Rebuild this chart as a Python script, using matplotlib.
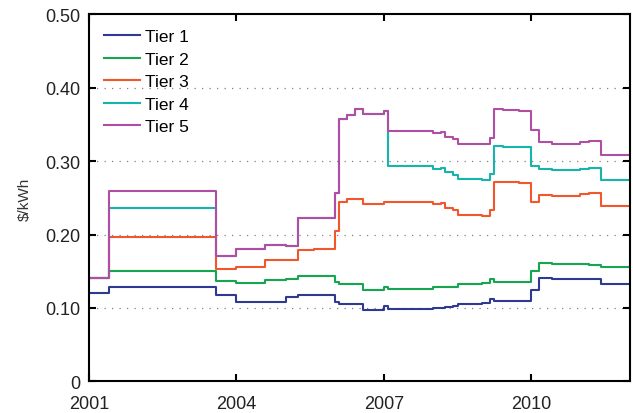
import numpy as np
import matplotlib
matplotlib.use("Agg")
import matplotlib.pyplot as plt
from matplotlib.ticker import FuncFormatter

plt.rcParams['font.family'] = ['Liberation Sans', 'DejaVu Sans']

# rate change dates (fractional year) and tier prices in $/kWh from each date on
change_years = [2001.0, 2001.417, 2003.583, 2004.0, 2004.583, 2005.0, 2005.25, 2005.583,
                2006.0, 2006.083, 2006.25, 2006.417, 2006.583, 2007.0, 2007.083,
                2008.0, 2008.167, 2008.25, 2008.417, 2008.5, 2009.0, 2009.167, 2009.25,
                2009.417, 2009.75, 2010.0, 2010.167, 2010.417, 2011.0, 2011.167, 2011.417]
end_year = 2012.0

tier1 = [0.120, 0.129, 0.118, 0.108, 0.108, 0.115, 0.118, 0.118,
         0.108, 0.106, 0.106, 0.106, 0.097, 0.102, 0.099,
         0.100, 0.100, 0.101, 0.102, 0.106, 0.107, 0.112, 0.109,
         0.109, 0.109, 0.124, 0.141, 0.140, 0.140, 0.139, 0.133]
tier2 = [0.141, 0.151, 0.137, 0.134, 0.138, 0.140, 0.144, 0.144,
         0.135, 0.133, 0.133, 0.133, 0.125, 0.128, 0.126,
         0.128, 0.128, 0.128, 0.129, 0.133, 0.134, 0.139, 0.136,
         0.136, 0.136, 0.151, 0.161, 0.160, 0.160, 0.159, 0.156]
tier3 = [0.141, 0.197, 0.153, 0.156, 0.165, 0.165, 0.179, 0.180,
         0.205, 0.245, 0.248, 0.249, 0.242, 0.245, 0.245,
         0.241, 0.243, 0.236, 0.233, 0.227, 0.225, 0.234, 0.272,
         0.271, 0.270, 0.245, 0.254, 0.253, 0.255, 0.256, 0.239]
tier4 = [0.141, 0.236, 0.171, 0.181, 0.186, 0.184, 0.222, 0.223,
         0.257, 0.357, 0.363, 0.371, 0.365, 0.368, 0.293,
         0.289, 0.291, 0.285, 0.281, 0.276, 0.274, 0.283, 0.321,
         0.320, 0.319, 0.294, 0.290, 0.288, 0.290, 0.291, 0.274]
tier5 = [0.141, 0.260, 0.171, 0.181, 0.186, 0.184, 0.222, 0.223,
         0.257, 0.357, 0.363, 0.371, 0.365, 0.368, 0.341,
         0.338, 0.340, 0.333, 0.330, 0.324, 0.323, 0.332, 0.371,
         0.370, 0.368, 0.342, 0.326, 0.323, 0.326, 0.327, 0.308]

tiers = [tier1, tier2, tier3, tier4, tier5]
labels = ['Tier 1', 'Tier 2', 'Tier 3', 'Tier 4', 'Tier 5']
colors = ['#2e3a92', '#17a650', '#f2572b', '#17b3ad', '#b04ea3']

fig = plt.figure(figsize=(6.33, 4.14), dpi=100)
ax = fig.add_axes([0.1406, 0.0766, 0.8539, 0.886])

xs = change_years + [end_year]
for vals, lab, col in zip(tiers, labels, colors):
    ax.step(xs, vals + [vals[-1]], where='post', color=col, lw=1.5, label=lab)

ax.set_xlim(2001, 2012)
ax.set_ylim(0, 0.5)
ax.set_xticks([2001, 2004, 2007, 2010])
ax.set_yticks(np.arange(0, 0.51, 0.1))
ax.yaxis.set_major_formatter(FuncFormatter(lambda v, p: '0' if v == 0 else f'{v:.2f}'))
ax.tick_params(direction='in', length=5, width=1.5, labelsize=13,
               top=True, right=True, colors='black', labelcolor='#222222')
ax.tick_params(axis='y', pad=6)
ax.tick_params(axis='x', pad=10)
for s in ax.spines.values():
    s.set_linewidth(1.5)

for g in [0.1, 0.2, 0.3, 0.4]:
    ax.axhline(g, color='#808080', lw=0.9, ls=(0, (1, 5)), zorder=0)

ax.set_ylabel('$/kWh', fontsize=11, color='#333333', labelpad=10)

ax.legend(loc='upper left', frameon=False, fontsize=12.5, handlelength=2.1,
          handletextpad=0.3, labelspacing=0.42, borderaxespad=0.45,
          bbox_to_anchor=(0.0, 1.0))

fig.savefig('out.png', dpi=100)
